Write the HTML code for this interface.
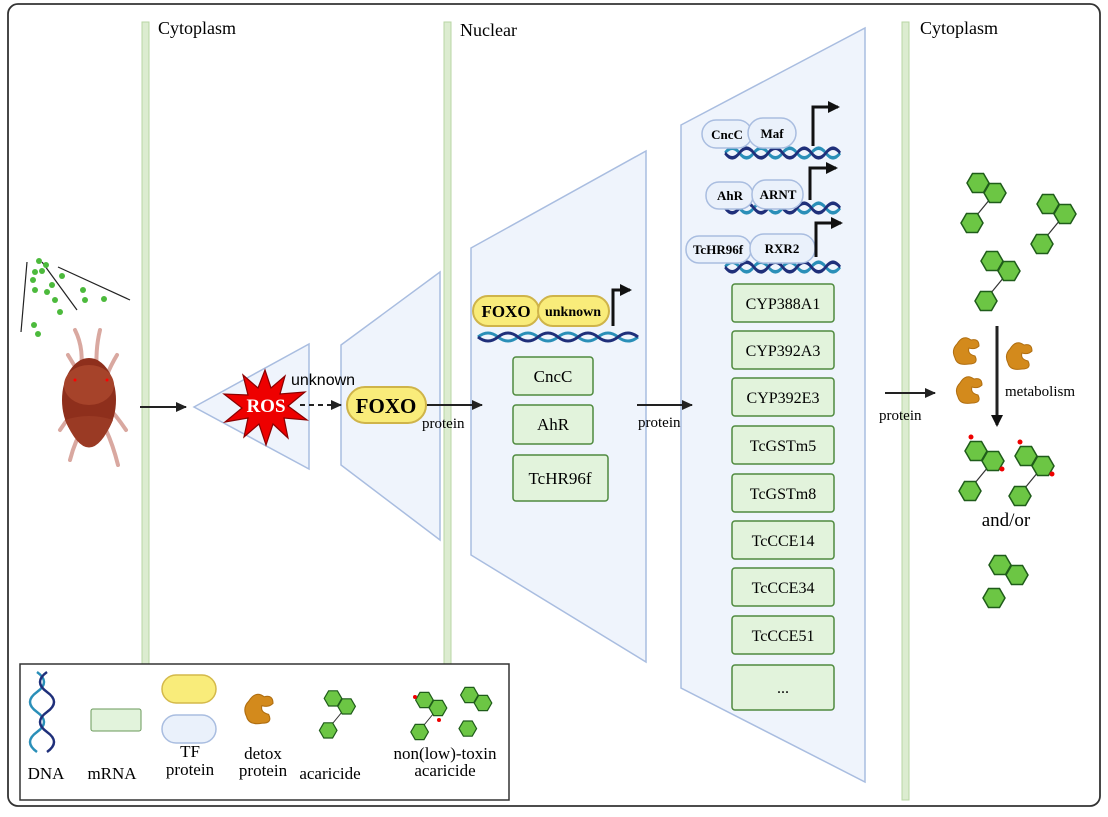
<!DOCTYPE html>
<html><head><meta charset="utf-8"><style>
body{margin:0;background:#fff}
svg text{font-family:"Liberation Serif",serif}
.s{font-family:"Liberation Sans",sans-serif}
</style></head><body>
<svg width="1108" height="812" viewBox="0 0 1108 812" xmlns="http://www.w3.org/2000/svg">
<defs>
<marker id="ah" markerWidth="11" markerHeight="10" refX="10" refY="5" orient="auto" markerUnits="userSpaceOnUse"><path d="M0,0 L11,5 L0,10z" fill="#222"/></marker>
<marker id="ah2" markerWidth="12" markerHeight="12" refX="10" refY="6" orient="auto" markerUnits="userSpaceOnUse"><path d="M0,0 L12,6 L0,12z" fill="#111"/></marker>
<polygon id="hx" points="-11,0 -5.5,-9.5 5.5,-9.5 11,0 5.5,9.5 -5.5,9.5" fill="#6cc644" stroke="#1f5c1a" stroke-width="1.5"/>
<g id="mol"><line x1="17" y1="10" x2="-6" y2="38" stroke="#333" stroke-width="1.2"/><use href="#hx"/><use href="#hx" x="17" y="10"/><use href="#hx" x="-6" y="40"/></g>
<g id="dna"><path d="M0,0 q10,-8 20,0 t20,0 t20,0 t20,0 t20,0 t20,0 t20,0 t20,0" fill="none" stroke="#2a8fb8" stroke-width="3"/><path d="M0,0 q10,8 20,0 t20,0 t20,0 t20,0 t20,0 t20,0 t20,0 t20,0" fill="none" stroke="#1f2f7a" stroke-width="3"/></g>
<path id="blob" d="M-12,-8 q6,-10 14,-4 q8,-2 8,6 q-4,4 -10,2 q-2,6 6,8 q4,8 -6,8 q-12,2 -14,-6 q-4,-8 2,-14z" fill="#d38a1c" stroke="#b06e10" stroke-width="1"/>
</defs>
<rect x="8" y="4" width="1092" height="802" rx="10" fill="#fff" stroke="#333" stroke-width="1.8"/>
<rect x="142" y="22" width="7" height="642" fill="#dcecd0" stroke="#b8d6a4"/>
<rect x="444" y="22" width="7" height="642" fill="#dcecd0" stroke="#b8d6a4"/>
<rect x="902" y="22" width="7" height="778" fill="#dcecd0" stroke="#b8d6a4"/>
<text x="158" y="34" font-size="18">Cytoplasm</text>
<text x="460" y="36" font-size="18">Nuclear</text>
<text x="920" y="34" font-size="18">Cytoplasm</text>
<g fill="#eff4fc" stroke="#a9bde0" stroke-width="1.5">
<polygon points="194,407 309,344 309,469"/>
<polygon points="341,345 440,272 440,540 341,465"/>
<polygon points="471,248 646,151 646,662 471,555"/>
<polygon points="681,125 865,28 865,782 681,688"/>
</g>
<g stroke="#222" stroke-width="1.2"><line x1="27" y1="262" x2="21" y2="332"/><line x1="42" y1="262" x2="77" y2="310"/><line x1="58" y1="267" x2="130" y2="300"/></g>
<g fill="#4cba3c"><circle cx="39" cy="261" r="3"/><circle cx="46" cy="265" r="3"/><circle cx="35" cy="272" r="3"/><circle cx="42" cy="271" r="3"/><circle cx="33" cy="280" r="3"/><circle cx="52" cy="285" r="3"/><circle cx="62" cy="276" r="3"/><circle cx="35" cy="290" r="3"/><circle cx="47" cy="292" r="3"/><circle cx="55" cy="300" r="3"/><circle cx="83" cy="290" r="3"/><circle cx="85" cy="300" r="3"/><circle cx="104" cy="299" r="3"/><circle cx="60" cy="312" r="3"/><circle cx="34" cy="325" r="3"/><circle cx="38" cy="334" r="3"/></g>
<g stroke="#d9a8a0" stroke-width="4" fill="none" stroke-linecap="round"><path d="M75,330 q10,20 5,45"/><path d="M100,330 q-5,20 -3,45"/><path d="M68,355 q6,10 12,20"/><path d="M117,355 q-6,10 -10,20"/><path d="M60,430 q10,-15 20,-25"/><path d="M126,430 q-10,-15 -20,-25"/><path d="M70,460 q5,-20 15,-35"/><path d="M118,465 q-5,-20 -12,-35"/></g>
<ellipse cx="89" cy="400" rx="27" ry="42" fill="#8e2f1c"/>
<ellipse cx="89" cy="385" rx="25" ry="20" fill="#a6432a"/>
<path d="M65,420 q24,55 48,0 q-24,-8 -48,0z" fill="#9a3a24"/>
<circle cx="75" cy="380" r="1.5" fill="#f00"/><circle cx="107" cy="380" r="1.5" fill="#f00"/>
<g stroke="#222" stroke-width="2" marker-end="url(#ah)">
<line x1="140" y1="407" x2="186" y2="407"/>
<line x1="300" y1="405" x2="341" y2="405" stroke-dasharray="5,4"/>
<line x1="425" y1="405" x2="482" y2="405"/>
<line x1="637" y1="405" x2="692" y2="405"/>
<line x1="885" y1="393" x2="935" y2="393"/>
</g>
<polygon points="265,370 271,388 285,376 280,394 305,392 288,406 307,420 284,418 288,438 273,424 266,445 259,424 244,437 248,418 225,422 242,408 224,394 248,395 243,375 258,388" fill="#e00" stroke="#8b0000" stroke-width="1.2"/>
<text x="266" y="412" font-size="19" font-weight="bold" fill="#fff" text-anchor="middle">ROS</text>
<text class="s" x="291" y="385" font-size="16">unknown</text>
<rect x="347" y="387" width="79" height="36" rx="18" fill="#f9ec7a" stroke="#cfb44a" stroke-width="2"/>
<text x="386" y="413" font-size="21" font-weight="bold" text-anchor="middle">FOXO</text>
<text x="422" y="428" font-size="15">protein</text>
<text x="638" y="427" font-size="15">protein</text>
<text x="879" y="420" font-size="15">protein</text>
<use href="#dna" x="478" y="337"/>
<rect x="473" y="296" width="66" height="30" rx="15" fill="#f9ec7a" stroke="#cfb44a" stroke-width="2"/>
<rect x="538" y="296" width="71" height="30" rx="15" fill="#f9ec7a" stroke="#cfb44a" stroke-width="2"/>
<text x="506" y="317" font-size="17" font-weight="bold" text-anchor="middle">FOXO</text>
<text x="573" y="316" font-size="14" font-weight="bold" text-anchor="middle">unknown</text>
<polyline points="613,326 613,290 630,290" fill="none" stroke="#111" stroke-width="3" marker-end="url(#ah2)"/>
<g fill="#e2f3dc" stroke="#4f8a3e" stroke-width="1.5">
<rect x="513" y="357" width="80" height="38" rx="3"/>
<rect x="513" y="405" width="80" height="39" rx="3"/>
<rect x="513" y="455" width="95" height="46" rx="3"/>
</g>
<g font-size="17" text-anchor="middle">
<text x="553" y="382">CncC</text><text x="553" y="430">AhR</text><text x="560" y="484">TcHR96f</text>
</g>
<g transform="translate(725,153) scale(0.72,1.2)"><use href="#dna"/></g>
<g transform="translate(725,208) scale(0.72,1.2)"><use href="#dna"/></g>
<g transform="translate(725,267) scale(0.72,1.2)"><use href="#dna"/></g>
<g fill="#eaf1fb" stroke="#a9bde0" stroke-width="1.5">
<rect x="702" y="120" width="50" height="28" rx="14"/><rect x="748" y="118" width="48" height="30" rx="15"/>
<rect x="706" y="182" width="47" height="27" rx="13"/><rect x="752" y="180" width="51" height="29" rx="14"/>
<rect x="686" y="236" width="65" height="27" rx="13"/><rect x="750" y="234" width="65" height="29" rx="14"/>
</g>
<g font-size="13" font-weight="bold" text-anchor="middle">
<text x="727" y="139">CncC</text><text x="772" y="138">Maf</text>
<text x="730" y="200">AhR</text><text x="778" y="199">ARNT</text>
<text x="718" y="254">TcHR96f</text><text x="782" y="253">RXR2</text>
</g>
<g fill="none" stroke="#111" stroke-width="3" marker-end="url(#ah2)">
<polyline points="813,146 813,107 838,107"/>
<polyline points="810,200 810,168 836,168"/>
<polyline points="816,257 816,223 841,223"/>
</g>
<g fill="#e2f3dc" stroke="#4f8a3e" stroke-width="1.5">
<rect x="732" y="284" width="102" height="38" rx="3"/>
<rect x="732" y="331" width="102" height="38" rx="3"/>
<rect x="732" y="378" width="102" height="38" rx="3"/>
<rect x="732" y="426" width="102" height="38" rx="3"/>
<rect x="732" y="474" width="102" height="38" rx="3"/>
<rect x="732" y="521" width="102" height="38" rx="3"/>
<rect x="732" y="568" width="102" height="38" rx="3"/>
<rect x="732" y="616" width="102" height="38" rx="3"/>
<rect x="732" y="665" width="102" height="45" rx="3"/>
</g>
<g font-size="16" text-anchor="middle">
<text x="783" y="309">CYP388A1</text><text x="783" y="356">CYP392A3</text><text x="783" y="403">CYP392E3</text>
<text x="783" y="451">TcGSTm5</text><text x="783" y="499">TcGSTm8</text><text x="783" y="546">TcCCE14</text>
<text x="783" y="593">TcCCE34</text><text x="783" y="641">TcCCE51</text><text x="783" y="693">...</text>
</g>
<use href="#mol" x="978" y="183"/>
<use href="#mol" x="1048" y="204"/>
<use href="#mol" x="992" y="261"/>
<line x1="997" y1="326" x2="997" y2="425" stroke="#222" stroke-width="3" marker-end="url(#ah2)"/>
<use href="#blob" x="969" y="352"/><use href="#blob" x="1022" y="357"/><use href="#blob" x="972" y="391"/>
<text x="1005" y="396" font-size="15">metabolism</text>
<use href="#mol" x="976" y="451"/><use href="#mol" x="1026" y="456"/>
<g fill="#e00"><circle cx="971" cy="437" r="2.5"/><circle cx="1002" cy="469" r="2.5"/><circle cx="1020" cy="442" r="2.5"/><circle cx="1052" cy="474" r="2.5"/></g>
<text x="1006" y="526" font-size="19" text-anchor="middle">and/or</text>
<use href="#hx" x="1000" y="565"/><use href="#hx" x="1017" y="575"/><use href="#hx" x="994" y="598"/>
<rect x="20" y="664" width="489" height="136" fill="#fff" stroke="#333" stroke-width="1.5"/>
<g transform="translate(40,672)"><path d="M0,0 q14,10 0,20 t0,20 t0,20 t0,20" fill="none" stroke="#2a8fb8" stroke-width="2.5" transform="translate(-3,0)"/><path d="M10,0 q-14,10 0,20 t0,20 t0,20 t0,20" fill="none" stroke="#1f2f7a" stroke-width="2.5" transform="translate(-3,0)"/></g>
<rect x="91" y="709" width="50" height="22" rx="2" fill="#e2f3dc" stroke="#6a9a5a" stroke-width="1"/>
<rect x="162" y="675" width="54" height="28" rx="14" fill="#f9ec7a" stroke="#d4b94a" stroke-width="1.5"/>
<rect x="162" y="715" width="54" height="28" rx="14" fill="#eaf1fb" stroke="#a9bde0" stroke-width="1.5"/>
<g transform="translate(262,710) scale(1.1)"><use href="#blob"/></g>
<g transform="translate(333,708) scale(0.8)"><use href="#mol" x="0" y="-12"/></g>
<g transform="translate(438,708) scale(0.8)"><use href="#mol" x="-17" y="-10"/></g>
<circle cx="415" cy="697" r="2" fill="#e00"/><circle cx="439" cy="720" r="2" fill="#e00"/>
<g transform="translate(475,703) scale(0.8)"><use href="#hx" x="-7" y="-10"/><use href="#hx" x="10" y="0"/><use href="#hx" x="-9" y="32"/></g>
<g font-size="17" text-anchor="middle">
<text x="46" y="779">DNA</text><text x="112" y="779">mRNA</text>
<text x="190" y="757">TF</text><text x="190" y="775">protein</text>
<text x="263" y="759">detox</text><text x="263" y="776">protein</text>
<text x="330" y="779">acaricide</text>
<text x="445" y="759">non(low)-toxin</text><text x="445" y="776">acaricide</text>
</g>
</svg>
</body></html>
